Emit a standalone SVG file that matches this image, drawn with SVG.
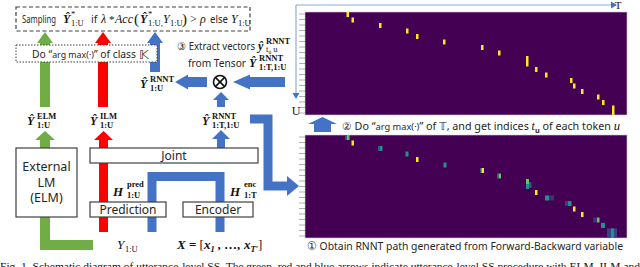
<svg xmlns="http://www.w3.org/2000/svg" width="640" height="267" viewBox="0 0 640 267">
<style>
.sans{font-family:"Noto Sans","Liberation Sans",sans-serif;fill:#262626}
.m{font-family:"Liberation Serif","DejaVu Serif",serif;fill:#111}
.mb{font-family:"Liberation Serif","DejaVu Serif",serif;font-weight:bold;font-style:italic;fill:#111}
.mi{font-family:"Liberation Serif","DejaVu Serif",serif;font-style:italic;fill:#111}
.sup{font-family:"Liberation Serif","DejaVu Serif",serif;font-size:8.5px;fill:#111}
.box{fill:#fff;stroke:#404040;stroke-width:1.2}
.blue{fill:#4472c4}
.green{fill:#70ad47}
.red{fill:#ff0000}
.axis{stroke:#8eaadb;stroke-width:1.2;fill:none}
.tick{stroke:#999;stroke-width:0.8}
.hm{fill:#440154}
.y{fill:#fde725}
.g{fill:#5ec962}
.t{fill:#21918c}
.b{fill:#3b528b}
</style>

<!-- connectors -->
<g id="connectors">
  <polygon class="green" points="40,107 40,43 37,43 45,32 53,43 50,43 50,107"/>
  <polygon class="red" points="98,107 98,43 95,43 103,32 111,43 108,43 108,107"/>
  <polygon class="blue" points="150,72 150,43 147,43 155,32 163,43 160,43 160,72"/>
  <polygon class="green" points="40,148 40,140 35,140 45,131 55,140 50,140 50,148"/>
  <polygon class="red" points="99,232 99,140 94,140 103.5,131 113,140 108,140 108,232"/>
  <polygon class="blue" points="217,148 217,139 212,139 221,130 230,139 225,139 225,148"/>
  <path d="M45,217 V245 H93" fill="none" stroke="#70ad47" stroke-width="10"/>
  <path d="M152,232 V176.5 H220 V232" fill="none" stroke="#4472c4" stroke-width="9"/>
  <polygon class="blue" points="217,107 217,100 213,100 221,92 229,100 225,100 225,107"/>
  <polygon class="blue" points="207,77 188,77 188,74.5 175,82 188,89.5 188,87 207,87"/>
  <polygon class="blue" points="285,77 250,77 250,74.5 233,82 250,89.5 250,87 285,87"/>
  <path d="M250,119 H268 V186 H288" fill="none" stroke="#4472c4" stroke-width="9"/>
  <polygon class="blue" points="287,176 299,186 287,196"/>
  <polygon class="blue" points="314,132 314,124 308,124 322.5,117 337,124 331,124 331,132"/>
  <line class="axis" x1="296" y1="5" x2="612" y2="5"/>
  <polygon points="611,1.5 617,5 611,8.5" fill="#4472c4"/>
  <line class="axis" x1="296" y1="5" x2="296" y2="94"/>
  <polygon points="292.5,93 296,99 299.5,93" fill="#4472c4"/>
</g>

<!-- sampling box -->
<g id="sampling">
  <rect x="16" y="7" width="234" height="24" fill="#fff" stroke="#404040" stroke-width="1.2" stroke-dasharray="4,2.5"/>
  <text class="sans" x="22" y="23" font-size="10" textLength="34" lengthAdjust="spacingAndGlyphs">Sampling</text>
  <text class="mb" x="63" y="23" font-size="12">Ŷ</text>
  <text class="sup" x="71" y="17">*</text>
  <text class="sup" x="71" y="26">1:U</text>
  <text class="sans" x="91" y="23" font-size="10.5">if</text>
  <text class="mi" x="101" y="23" font-size="12">λ</text>
  <text class="m" x="109" y="23" font-size="11">*</text>
  <text class="mi" x="115" y="23" font-size="12">Acc</text>
  <text class="m" x="134" y="24" font-size="15">(</text>
  <text class="mb" x="140" y="23" font-size="12">Ŷ</text>
  <text class="sup" x="148" y="17">*</text>
  <text class="sup" x="148" y="26">1:U,</text>
  <text class="mi" x="163" y="23" font-size="12">Y</text>
  <text class="sup" x="170" y="26">1:U</text>
  <text class="m" x="182" y="24" font-size="15">)</text>
  <text class="m" x="190" y="23" font-size="12">&gt;</text>
  <text class="mi" x="200" y="23" font-size="12">ρ</text>
  <text class="sans" x="210" y="23" font-size="10.5" textLength="18" lengthAdjust="spacingAndGlyphs">else</text>
  <text class="mi" x="231" y="23" font-size="12">Y</text>
  <text class="sup" x="238" y="26">1:U</text>
</g>

<!-- argmax class K box -->
<g id="argmaxK">
  <rect x="16" y="45" width="141" height="17" fill="#fff" stroke="#404040" stroke-width="1" stroke-dasharray="1.5,1.5"/>
  <text class="sans" x="32" y="58" font-size="10.5" textLength="104" lengthAdjust="spacingAndGlyphs">Do “<tspan font-size="9">arg max(·)</tspan>” of class</text>
  <text x="139" y="59" font-size="13" font-family="DejaVu Sans, sans-serif" fill="#262626">𝕂</text>
</g>

<!-- step 3 text -->
<g id="step3">
  <text class="sans" x="177" y="50" font-size="10.5" textLength="78" lengthAdjust="spacingAndGlyphs">③ Extract vectors</text>
  <text class="mb" x="258" y="50" font-size="12">ŷ</text>
  <text class="sup" x="266" y="44" font-weight="bold">RNNT</text>
  <text class="sup" x="266" y="52" font-size="7">t<tspan font-size="5.5" dy="1.5">u</tspan><tspan dy="-1.5"> u</tspan></text>
  <text class="sans" x="188" y="67" font-size="10.5" textLength="58" lengthAdjust="spacingAndGlyphs">from Tensor</text>
  <text class="mb" x="249" y="67" font-size="12">Ŷ</text>
  <text class="sup" x="259" y="61" font-weight="bold">RNNT</text>
  <text class="sup" x="259" y="70" font-size="7.5" font-weight="bold">1:T,1:U</text>
</g>

<!-- otimes -->
<g id="otimes">
  <circle cx="220" cy="82" r="6.5" fill="#fff" stroke="#111" stroke-width="1.6"/>
  <line x1="215.4" y1="77.4" x2="224.6" y2="86.6" stroke="#111" stroke-width="1.6"/>
  <line x1="224.6" y1="77.4" x2="215.4" y2="86.6" stroke="#111" stroke-width="1.6"/>
</g>

<!-- labels -->
<g id="label-rnnt-1U">
  <text class="mb" x="140" y="88" font-size="12">Ŷ</text>
  <text class="sup" x="150" y="82" font-weight="bold">RNNT</text>
  <text class="sup" x="150" y="91" font-weight="bold">1:U</text>
</g>
<g id="label-elm">
  <text class="mb" x="27" y="125" font-size="12">Ŷ</text>
  <text class="sup" x="37" y="119" font-weight="bold">ELM</text>
  <text class="sup" x="37" y="128" font-weight="bold">1:U</text>
</g>
<g id="label-ilm">
  <text class="mb" x="90" y="125" font-size="12">Ŷ</text>
  <text class="sup" x="100" y="119" font-weight="bold">ILM</text>
  <text class="sup" x="100" y="128" font-weight="bold">1:U</text>
</g>
<g id="label-rnnt-tensor">
  <text class="mb" x="202" y="125" font-size="12">Ŷ</text>
  <text class="sup" x="212" y="119" font-weight="bold">RNNT</text>
  <text class="sup" x="212" y="128" font-weight="bold" font-size="8">1:T,1:U</text>
</g>

<!-- ELM box -->
<g id="elm">
  <rect class="box" x="16" y="148" width="61" height="69"/>
  <text class="sans" x="46.5" y="171" font-size="12.5" text-anchor="middle">External</text>
  <text class="sans" x="46.5" y="187" font-size="12.5" text-anchor="middle">LM</text>
  <text class="sans" x="46.5" y="202" font-size="12.5" text-anchor="middle">(ELM)</text>
</g>

<g id="joint">
  <rect class="box" x="90" y="148" width="168" height="15"/>
  <text class="sans" x="174" y="160" font-size="12" text-anchor="middle">Joint</text>
</g>

<g id="prediction">
  <rect class="box" x="90" y="202" width="76" height="15"/>
  <text class="sans" x="128" y="214" font-size="12" text-anchor="middle">Prediction</text>
</g>

<g id="encoder">
  <rect class="box" x="183" y="202" width="70" height="15"/>
  <text class="sans" x="218" y="214" font-size="12" text-anchor="middle">Encoder</text>
</g>

<g id="label-hpred">
  <text class="mb" x="113" y="196" font-size="13">H</text>
  <text class="sup" x="127" y="187" font-weight="bold">pred</text>
  <text class="sup" x="127" y="198" font-weight="bold">1:U</text>
</g>
<g id="label-henc">
  <text class="mb" x="230" y="196" font-size="13">H</text>
  <text class="sup" x="244" y="187" font-weight="bold">enc</text>
  <text class="sup" x="244" y="198" font-weight="bold">1:T</text>
</g>
<g id="label-Y">
  <text class="mi" x="117" y="249" font-size="13">Y</text>
  <text class="sup" x="125" y="252" font-size="9">1:U</text>
</g>
<g id="label-X">
  <text class="mb" x="177" y="249" font-size="13">X <tspan font-style="normal">=</tspan> <tspan font-style="normal" font-weight="normal">[</tspan>x<tspan font-size="8.5" dy="3">1</tspan><tspan dy="-3"> , …, x</tspan><tspan font-size="8.5" dy="3">T′</tspan><tspan dy="-3" font-style="normal" font-weight="normal">]</tspan></text>
</g>

<!-- top heatmap -->
<g id="heatmap-top">
  <rect x="305" y="12" width="322" height="103" class="hm" stroke="#ccc" stroke-width="0.6"/>
  <g class="tick">
    <line x1="299" y1="14" x2="305" y2="14"/><line x1="299" y1="19.5" x2="305" y2="19.5"/><line x1="299" y1="25" x2="305" y2="25"/><line x1="299" y1="30.5" x2="305" y2="30.5"/><line x1="299" y1="36" x2="305" y2="36"/><line x1="299" y1="41.5" x2="305" y2="41.5"/><line x1="299" y1="47" x2="305" y2="47"/><line x1="299" y1="52.5" x2="305" y2="52.5"/><line x1="299" y1="58" x2="305" y2="58"/><line x1="299" y1="63.5" x2="305" y2="63.5"/><line x1="299" y1="69" x2="305" y2="69"/><line x1="299" y1="74.5" x2="305" y2="74.5"/><line x1="299" y1="80" x2="305" y2="80"/><line x1="299" y1="85.5" x2="305" y2="85.5"/><line x1="299" y1="91" x2="305" y2="91"/><line x1="299" y1="96.5" x2="305" y2="96.5"/><line x1="299" y1="102" x2="305" y2="102"/><line x1="299" y1="107.5" x2="305" y2="107.5"/><line x1="299" y1="113" x2="305" y2="113"/>
  </g>
  <g class="y">
    <rect x="346.5" y="12" width="2.5" height="5"/>
    <rect x="351.5" y="17.5" width="2.5" height="5"/>
    <rect x="379" y="23" width="2.5" height="5"/>
    <rect x="406" y="28.5" width="2.5" height="5"/>
    <rect x="416" y="34" width="2.5" height="5"/>
    <rect x="443" y="39.5" width="2.5" height="5"/>
    <rect x="481" y="45" width="2.5" height="5"/>
    <rect x="498" y="50.5" width="2.5" height="5"/>
    <rect x="526" y="56" width="2.5" height="10.5"/>
    <rect x="535" y="67" width="2.5" height="5"/>
    <rect x="545" y="72.5" width="2.5" height="5"/>
    <rect x="570" y="78" width="2.5" height="5"/>
    <rect x="573" y="83.5" width="2.5" height="5"/>
    <rect x="581" y="89" width="2.5" height="5"/>
    <rect x="597" y="94.5" width="2.5" height="5"/>
    <rect x="602" y="100" width="2.5" height="5"/>
    <rect x="612" y="105.5" width="2.5" height="9.5"/>
  </g>
  <text class="m" x="618" y="9" font-size="11" text-anchor="middle">T</text>
  <text class="m" x="296" y="115" font-size="12" text-anchor="middle">U</text>
</g>

<g id="step2">
  <text class="sans" x="342" y="130" font-size="11" textLength="278" lengthAdjust="spacingAndGlyphs">② Do “<tspan font-size="9.5">arg max(·)</tspan>” of <tspan font-family="DejaVu Sans, sans-serif">𝕋</tspan>, and get indices <tspan class="mi" font-size="12">t</tspan><tspan font-size="7.5" dy="2.5" font-weight="bold">u</tspan><tspan dy="-2.5"> of each token </tspan><tspan class="mi" font-size="13">u</tspan></text>
</g>

<!-- bottom heatmap -->
<g id="heatmap-bottom">
  <rect x="305" y="135" width="322" height="103" class="hm" stroke="#ccc" stroke-width="0.6"/>
  <g class="tick">
    <line x1="299" y1="137" x2="305" y2="137"/><line x1="299" y1="142.5" x2="305" y2="142.5"/><line x1="299" y1="148" x2="305" y2="148"/><line x1="299" y1="153.5" x2="305" y2="153.5"/><line x1="299" y1="159" x2="305" y2="159"/><line x1="299" y1="164.5" x2="305" y2="164.5"/><line x1="299" y1="170" x2="305" y2="170"/><line x1="299" y1="175.5" x2="305" y2="175.5"/><line x1="299" y1="181" x2="305" y2="181"/><line x1="299" y1="186.5" x2="305" y2="186.5"/><line x1="299" y1="192" x2="305" y2="192"/><line x1="299" y1="197.5" x2="305" y2="197.5"/><line x1="299" y1="203" x2="305" y2="203"/><line x1="299" y1="208.5" x2="305" y2="208.5"/><line x1="299" y1="214" x2="305" y2="214"/><line x1="299" y1="219.5" x2="305" y2="219.5"/><line x1="299" y1="225" x2="305" y2="225"/><line x1="299" y1="230.5" x2="305" y2="230.5"/><line x1="299" y1="236" x2="305" y2="236"/>
  </g>
  <rect class="b" x="345" y="135" width="2" height="5"/><rect class="g" x="347" y="135" width="2.5" height="5"/>
  <rect class="y" x="351.5" y="140.5" width="2.5" height="5"/>
  <rect class="b" x="378" y="146" width="2" height="5"/><rect class="t" x="380" y="146" width="2.5" height="5"/>
  <rect class="t" x="405.5" y="151.5" width="3" height="5"/>
  <rect class="y" x="416" y="157" width="2.5" height="5"/>
  <rect class="t" x="443.5" y="162.5" width="3" height="5"/>
  <rect class="b" x="480" y="168" width="1.5" height="5"/><rect class="y" x="481.5" y="168" width="2.5" height="5"/>
  <rect class="b" x="497" y="173.5" width="1.5" height="5"/><rect class="g" x="498.5" y="173.5" width="2.5" height="5"/>
  <rect class="g" x="526" y="179" width="3" height="5"/><rect class="t" x="526" y="184" width="3" height="5"/><rect class="b" x="529" y="182" width="2.5" height="6"/>
  <rect class="y" x="535" y="190" width="2.5" height="5"/>
  <rect class="t" x="545" y="195.5" width="4" height="5"/><rect class="b" x="549" y="195.5" width="5" height="5" opacity="0.6"/>
  <rect class="b" x="565" y="201" width="3" height="5" opacity="0.7"/><rect class="t" x="568" y="201" width="3.5" height="5"/>
  <rect class="y" x="573" y="206.5" width="2.5" height="5"/>
  <rect class="y" x="581" y="212" width="2.5" height="5"/>
  <rect class="b" x="593" y="217.5" width="4" height="5" opacity="0.6"/><rect class="g" x="597" y="217.5" width="2.5" height="5"/>
  <rect class="t" x="601" y="223" width="4" height="5"/>
  <rect class="b" x="607" y="228.5" width="10" height="9.5" opacity="0.8"/><rect class="t" x="611" y="228.5" width="3" height="9.5"/>
</g>

<g id="step1">
  <text class="sans" x="307" y="250" font-size="11.5" textLength="316" lengthAdjust="spacingAndGlyphs">① Obtain RNNT path generated from Forward-Backward variable</text>
</g>

<text x="0" y="270" font-family="Liberation Serif, serif" font-size="10.5" fill="#111" textLength="640" lengthAdjust="spacingAndGlyphs">Fig. 1. Schematic diagram of utterance-level SS. The green, red and blue arrows indicate utterance-level SS procedure with ELM, ILM and</text>
</svg>
